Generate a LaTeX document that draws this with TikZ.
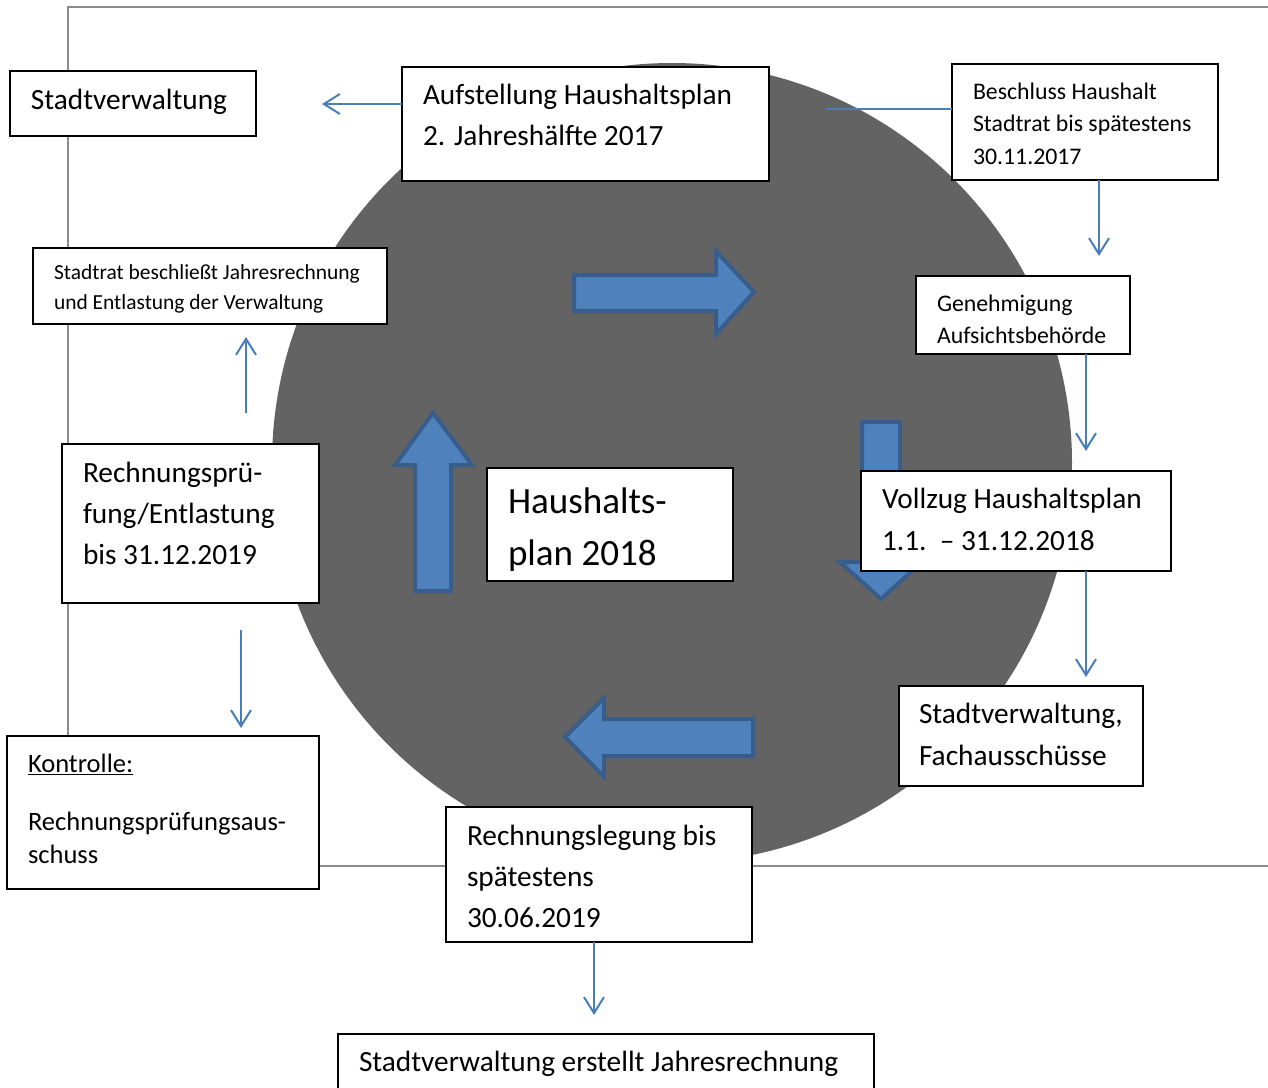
\documentclass[tikz,border=0pt]{standalone}
\usepackage{fontspec}
\setmainfont{Carlito}
\usetikzlibrary{arrows.meta}
\definecolor{circ}{HTML}{636363}
\definecolor{conncol}{HTML}{4A7EBB}
\definecolor{bafill}{HTML}{4F81BD}
\definecolor{badraw}{HTML}{385D8A}
\definecolor{framecol}{HTML}{8C8C8C}
\newcommand\lns[2]{\vtop{\baselineskip=#1\relax\lineskiplimit=-10pt\halign{##\hfil\cr#2\crcr}}}
\newcommand\bxnode[5]{\node[bx, minimum width={(#4-#2)*0.75pt}, minimum height={(#5-#3)*0.75pt}] (#1) at ({(#2+#4)/2},{(#3+#5)/2}) {};}
\tikzset{
  bx/.style={draw=black, fill=white, line width=1.5pt, inner sep=0pt, outer sep=0pt, rectangle},
  txt/.style={anchor=base west, inner sep=0pt, outer sep=0pt, text=black},
  fnorm/.style={font=\fontsize{22pt}{30.75pt}\selectfont},
  conn/.style={draw=conncol, line width=1.5pt, -{Straight Barb[length=12pt, width=15pt, line width=1.5pt]}},
  plainconn/.style={draw=conncol, line width=1.5pt},
  blockarrow/.style={fill=bafill, draw=badraw, line width=3pt, line join=miter},
}
\begin{document}
\begin{tikzpicture}[x=0.75pt, y=-0.75pt]
\useasboundingbox (0,0) rectangle (1268,1088);
% frame
\draw[framecol, line width=1.3pt] (1268,7) -- (68,7) -- (68,866) -- (1268,866);
% circle
\fill[circ] (672,463) circle[radius=400];
% block arrows
\path[blockarrow] (574,275) -- (716,275) -- (716,251) -- (754,292) -- (716,334) -- (716,311) -- (574,311) -- cycle;
\path[blockarrow] (415,591) -- (415,465) -- (395,465) -- (433,413) -- (472,465) -- (451,465) -- (451,591) -- cycle;
\path[blockarrow] (862,422) -- (900,422) -- (900,562) -- (922,562) -- (881,599) -- (840,562) -- (862,562) -- cycle;
\path[blockarrow] (753,719) -- (604,719) -- (604,698) -- (565,737) -- (604,777) -- (604,756) -- (753,756) -- cycle;
% boxes
\bxnode{sv}{10}{71}{256}{136}
\bxnode{auf}{402}{67}{769}{181}
\bxnode{bes}{952}{64}{1218}{180}
\bxnode{gen}{916}{276}{1130}{354}
\bxnode{vol}{861}{471}{1171}{571}
\bxnode{svf}{899}{686}{1143}{786}
\bxnode{rl}{446}{807}{752}{942}
\bxnode{jr}{338}{1034}{874}{1110}
\bxnode{kon}{7}{736}{319}{889}
\bxnode{rp}{62}{444}{319}{603}
\bxnode{sb}{33}{248}{387}{324}
\bxnode{hp}{487}{468}{733}{581}
% texts
\node[txt, font=\fontsize{22pt}{30.75pt}\selectfont] (tsv) at (31,110) {Stadtverwaltung};
\node[txt, fnorm] (tauf) at (423,105) {\lns{30.75pt}{Aufstellung Haushaltsplan\cr 2. Jahreshälfte 2017}};
\node[txt, font=\fontsize{17.85pt}{24.4pt}\selectfont] (tbes) at (973,99) {\lns{24.4pt}{Beschluss Haushalt\cr Stadtrat bis spätestens\cr 30.11.2017}};
\node[txt, font=\fontsize{17.85pt}{24.4pt}\selectfont] (tgen) at (937,311) {\lns{24pt}{Genehmigung\cr Aufsichtsbehörde}};
\node[txt, fnorm] (tvol) at (882,508) {\lns{31.5pt}{Vollzug Haushaltsplan\cr 1.1.\ \ –\ 31.12.2018}};
\node[txt, fnorm] (tsvf) at (919,723) {\lns{31.5pt}{Stadtverwaltung,\cr Fachausschüsse}};
\node[txt, fnorm] (trl) at (467,845) {\lns{30.75pt}{Rechnungslegung bis\cr spätestens\cr 30.06.2019}};
\node[txt, fnorm] (tjr) at (359,1071) {Stadtverwaltung erstellt Jahresrechnung};
\node[txt, font=\fontsize{19.9pt}{24.75pt}\selectfont] (tkon) at (28,772) {\lns{24.75pt}{\underline{Kontrolle:}\cr\cr\noalign{\vskip-6pt}Rechnungsprüfungsaus-\cr schuss}};
\node[txt, fnorm] (trp) at (83,482) {\lns{30.75pt}{Rechnungsprü-\cr fung/Entlastung\cr bis 31.12.2019}};
\node[txt, font=\fontsize{16.1pt}{22.5pt}\selectfont] (tsb) at (54,279) {\lns{22.5pt}{Stadtrat beschließt Jahresrechnung\cr und Entlastung der Verwaltung}};
\node[txt, font=\fontsize{27.8pt}{39pt}\selectfont] (thp) at (508,513) {\lns{39pt}{Haushalts-\cr plan 2018}};
% connectors
\coordinate (e1) at (322,104);
\draw[conn] (auf.west |- e1) -- (e1);
\coordinate (e2) at (826,109);
\draw[plainconn] (bes.west |- e2) -- (e2);
\coordinate (e3) at (1099,256);
\draw[conn] (bes.south -| e3) -- (e3);
\coordinate (e4) at (1086,451);
\draw[conn] (gen.south -| e4) -- (e4);
\coordinate (e5) at (1086,677);
\draw[conn] (vol.south -| e5) -- (e5);
\coordinate (e6) at (594,1015);
\draw[conn] (rl.south -| e6) -- (e6);
\coordinate (s7) at (241,630);
\coordinate (e7) at (241,728);
\draw[conn] (s7) -- (e7);
\coordinate (s8) at (246,413);
\coordinate (e8) at (246,337);
\draw[conn] (s8) -- (e8);
\end{tikzpicture}
\end{document}
